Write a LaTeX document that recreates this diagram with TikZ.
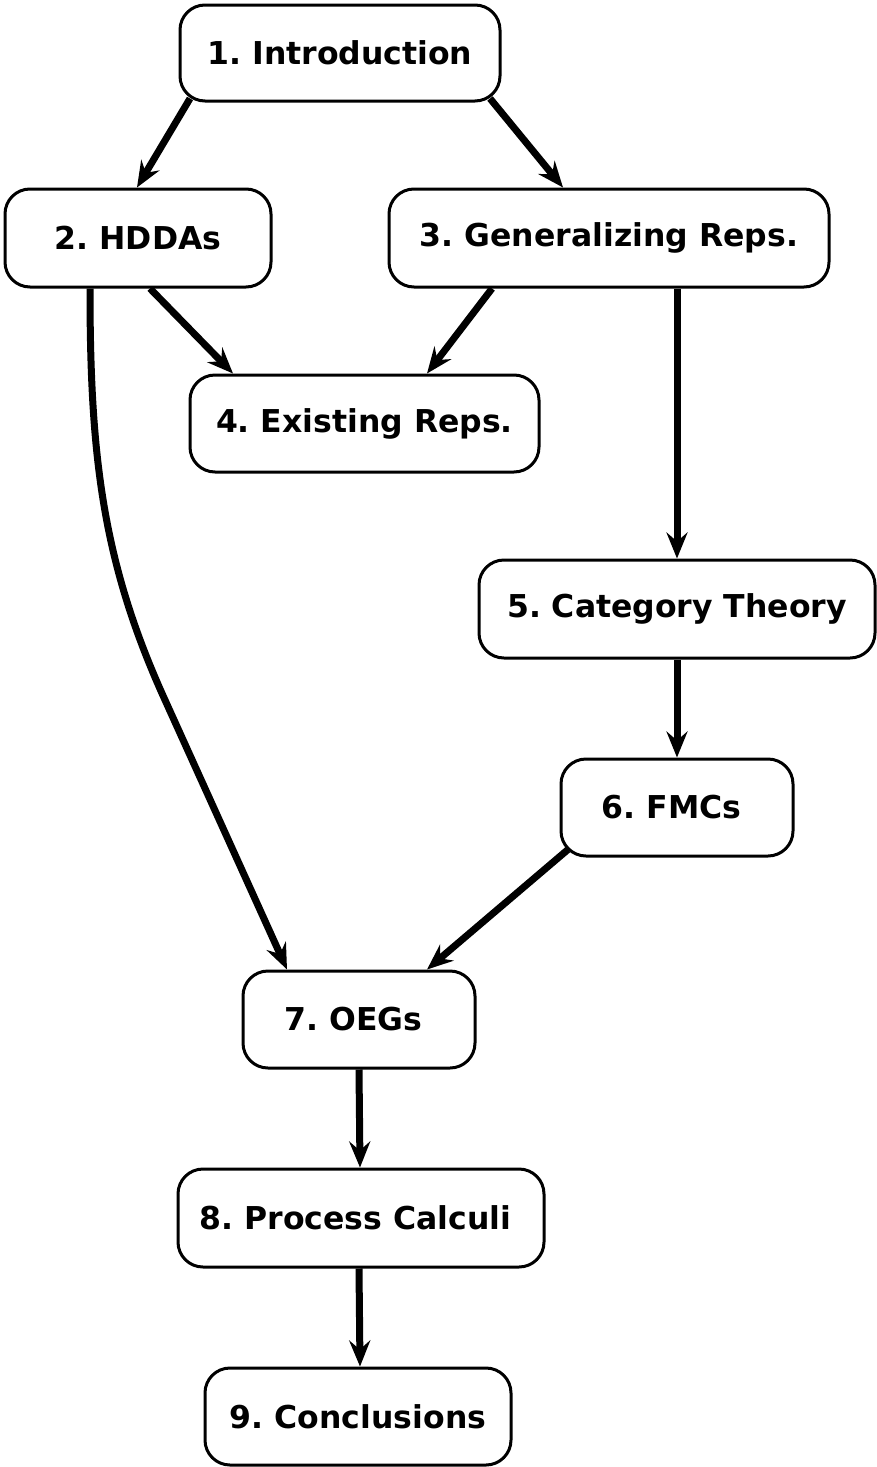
\documentclass[tikz,border=0pt]{standalone}
\usepackage{fontspec}
\setmainfont{DejaVu Sans}
\frenchspacing
\usetikzlibrary{arrows.meta}
\begin{document}
\begin{tikzpicture}[x=1pt,y=-1pt,
  box/.style={draw=black, line width=3pt, rounded corners=25pt, fill=white,
    inner sep=0pt, font=\fontsize{31.5}{37}\selectfont\bfseries, align=center},
  link/.style={line width=7pt,
    -{Stealth[length=26pt,width=21pt,inset=9pt]}}]
\useasboundingbox (0,0) rectangle (876,1467);

% chapter boxes
\node[box, minimum width=320pt, minimum height=96pt] (n1) at (340,53) {1. Introduction};
\node[box, minimum width=266pt, minimum height=98pt] (n2) at (138,238) {2. HDDAs};
\node[box, minimum width=440pt, minimum height=98pt] (n3) at (609,238) {3. Generalizing Reps.};
\node[box, minimum width=349pt, minimum height=97pt] (n4) at (364.5,423.5) {4. Existing Reps.};
\node[box, minimum width=396pt, minimum height=98pt] (n5) at (677,609) {5. Category Theory};
\node[box, minimum width=232pt, minimum height=97pt] (n6) at (677,807.5) {6. FMCs\ };
\node[box, minimum width=232pt, minimum height=97pt] (n7) at (359,1019.5) {7. OEGs\ };
\node[box, minimum width=366pt, minimum height=98pt] (n8) at (361,1218) {8. Process Calculi\ };
\node[box, minimum width=306pt, minimum height=97pt] (n9) at (358,1416.5) {9. Conclusions};

% dependencies between chapters
\draw[link] ([xshift=-150pt,yshift=4pt]n1.south) -- ([xshift=-1pt]n2.north);
\draw[link] ([xshift=150pt,yshift=4pt]n1.south) -- ([xshift=-46pt]n3.north);
\draw[link] ([xshift=12pt]n2.south) -- ([xshift=-131.5pt]n4.north);
\draw[link] ([xshift=-117pt]n3.south) -- ([xshift=62.5pt]n4.north);
\draw[link] ([xshift=-48pt]n2.south) .. controls (90,458) and (102.9,563.5) .. (165,700)
  -- ([xshift=-72pt]n7.north);
\draw[link] (n3.south -| n5.north) -- (n5.north);
\draw[link] (n5.south) -- (n6.north);
\draw[link] ([xshift=-109pt,yshift=8pt]n6.south) -- ([xshift=68pt]n7.north);
\draw[link] (n7.south) -- ([xshift=-1pt]n8.north);
\draw[link] ([xshift=-2pt]n8.south) -- ([xshift=2pt]n9.north);
\end{tikzpicture}
\end{document}
